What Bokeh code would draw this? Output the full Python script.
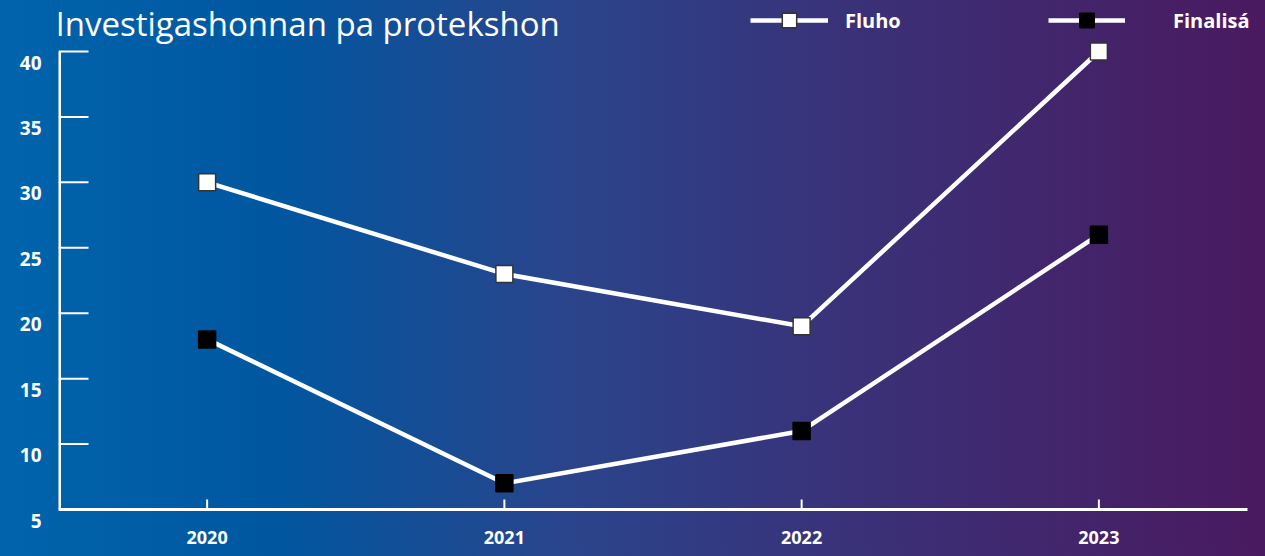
from bokeh.plotting import figure
from bokeh.models import Legend, LegendItem, Label, FixedTicker, Range1d, LinearAxis
from bokeh.embed import file_html
from bokeh.resources import INLINE

years = [2020, 2021, 2022, 2023]
fluho = [30, 23, 19, 40]
finalisa = [18, 7, 11, 26]
y_ticks = [5, 10, 15, 20, 25, 30, 35, 40]
title_text = "Investigashonnan pa protekshon"
series_names = ["Fluho", "Finalisá"]

FONT = "Open Sans"
W, H = 1257, 548
GRAD = "linear-gradient(to right, #0064ac 0%, #0057a0 22%, #2a448b 45%, #3a3178 68%, #4a1a60 100%)"

PX_Y = 458 / 35.0          # pixels per y unit
PX_X = 1189 / 4.0          # pixels per x unit
YMIN, YMAX = y_ticks[0], y_ticks[-1]
Y0, Y1 = YMIN - 13 / PX_Y, YMAX + 51 / PX_Y   # frame reaches above/below the axis
X0, X1 = 2019.5, 2019.5 + 1199 / PX_X
XEND = 2023.5
LAB_SHIFT = 11 / PX_Y      # tick labels sit a little below their ticks

p = figure(width=W, height=H, output_backend="svg", toolbar_location=None,
           x_range=Range1d(X0, X1), y_range=Range1d(Y0, Y1), y_axis_location=None,
           min_border_left=58, min_border_right=0, min_border_top=0, min_border_bottom=H - 522)
p.extra_y_ranges = {"lab": Range1d(Y0 + LAB_SHIFT, Y1 + LAB_SHIFT)}
p.background_fill_color = None
p.border_fill_color = None
p.outline_line_color = None
p.grid.visible = False
p.styles = {"background": GRAD}

xa = p.xaxis[0]
xa.ticker = FixedTicker(ticks=years)
xa.axis_line_color = None
xa.major_tick_line_color = None
xa.minor_tick_line_color = None
xa.major_tick_in = 0
xa.major_tick_out = 0
xa.major_label_standoff = 8
xa.major_label_text_color = "white"
xa.major_label_text_font = FONT
xa.major_label_text_font_style = "bold"
xa.major_label_text_font_size = "18px"

lab_axis = LinearAxis(y_range_name="lab", ticker=FixedTicker(ticks=y_ticks),
                      axis_line_color=None, major_tick_line_color=None, minor_tick_line_color=None,
                      major_tick_in=0, major_tick_out=0, major_label_standoff=17,
                      major_label_text_color="white", major_label_text_font=FONT,
                      major_label_text_font_style="bold", major_label_text_font_size="19px")
p.add_layout(lab_axis, "left")

# axis lines and inward ticks
p.segment(x0=[X0], y0=[YMIN], x1=[X0], y1=[YMAX], line_color="white", line_width=5)
p.segment(x0=[X0], y0=[YMIN], x1=[XEND], y1=[YMIN], line_color="white", line_width=3)
p.segment(x0=[X0] * len(y_ticks), y0=y_ticks, x1=[X0 + 30 / PX_X] * len(y_ticks), y1=y_ticks,
          line_color="white", line_width=2)
p.segment(x0=years, y0=[YMIN] * len(years), x1=years, y1=[YMIN + 10 / PX_Y] * len(years),
          line_color="white", line_width=2)

l1 = p.line(years, fluho, line_color="white", line_width=4.5)
s1 = p.scatter(years, fluho, marker="square", size=17, fill_color="white", line_color="#333333", line_width=1.5)
l2 = p.line(years, finalisa, line_color="white", line_width=4.5)
s2 = p.scatter(years, finalisa, marker="square", size=17, fill_color="black", line_color="black", line_width=1.5)

def mk_legend(item, x, standoff, gw):
    return Legend(items=[item], location=(x, 484), orientation="horizontal",
                  glyph_width=gw, glyph_height=36, label_height=36, label_standoff=standoff,
                  padding=0, margin=0, spacing=0,
                  border_line_color=None, background_fill_color=None, background_fill_alpha=0,
                  label_text_color="white", label_text_font=FONT, label_text_font_style="bold",
                  label_text_font_size="20px")

p.add_layout(mk_legend(LegendItem(label=series_names[0], renderers=[l1, s1]), 692, 17, 78), "center")
p.add_layout(mk_legend(LegendItem(label=series_names[1], renderers=[l2, s2]), 990, 48, 77), "center")

p.add_layout(Label(x=X0, y=YMAX, x_offset=-3, y_offset=51, text=title_text,
                   text_color="white", text_font=FONT, text_font_size="33px",
                   text_baseline="top"))

html = file_html(p, INLINE)
html = html.replace("</head>", "<style>html{background:" + GRAD + ";min-height:100%;}</style></head>")
open("out.html", "w").write(html)
